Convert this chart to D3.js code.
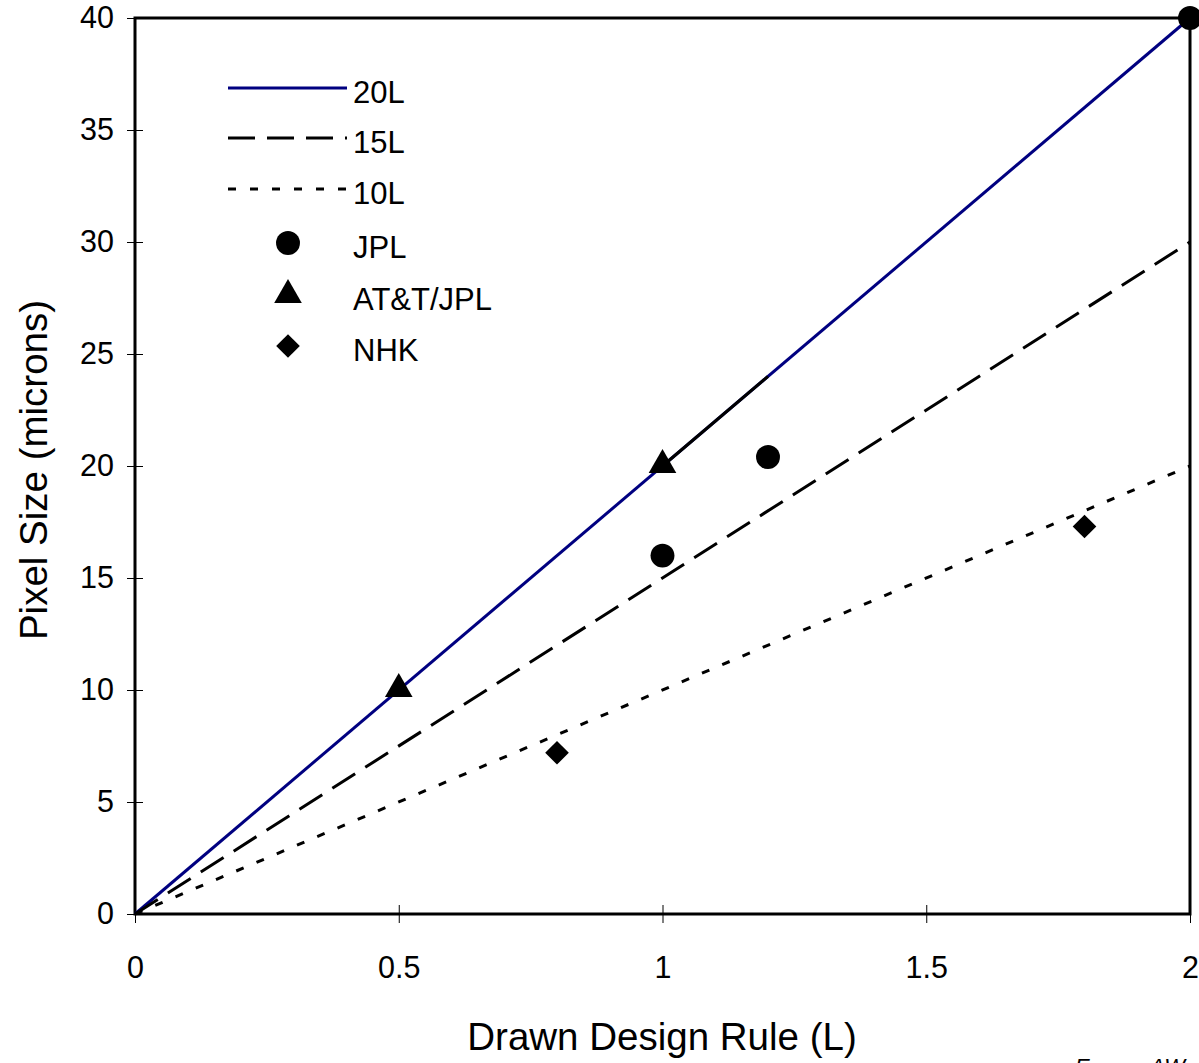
<!DOCTYPE html>
<html>
<head>
<meta charset="utf-8">
<script src="https://cdn.jsdelivr.net/npm/d3@7"></script>
<style>
  body { margin: 0; background: #fff; }
  text { font-family: "Liberation Sans", Arial, sans-serif; fill: #000; }
</style>
</head>
<body>
<svg id="chart"></svg>
<script>
// Reference lines: pixel size = N * design rule
const ruleX = [0, 2];
const lines20L = [0, 40];
const lines15L = [0, 30];
const lines10L = [0, 20];

// Measured devices
const jplX = [1.0, 1.2, 2.0];
const jplY = [16, 20.4, 40];
const attX = [0.5, 1.0];
const attY = [10, 20];
const nhkX = [0.8, 1.8];
const nhkY = [7.2, 17.3];

// Black highlight segment drawn over the 20L line
const highlightX = [1.0, 1.2];
const highlightY = [20, 24];

const xTicks = [0, 0.5, 1, 1.5, 2];
const yTicks = [0, 5, 10, 15, 20, 25, 30, 35, 40];

const legendNames = ["20L", "15L", "10L", "JPL", "AT&T/JPL", "NHK"];

// Set up the svg and margins
const width = 1199, height = 1063;
const margin = { top: 18, right: 9, bottom: 149, left: 135 };
const innerW = width - margin.left - margin.right;
const innerH = height - margin.top - margin.bottom;

const svg = d3.select("#chart")
  .attr("width", width)
  .attr("height", height);

const g = svg.append("g")
  .attr("transform", `translate(${margin.left},${margin.top})`);

const x = d3.scaleLinear().domain([0, 2]).range([0, innerW]);
const y = d3.scaleLinear().domain([0, 40]).range([innerH, 0]);

// Axes with ticks crossing the frame
const xAxis = g.append("g")
  .attr("transform", `translate(0,${innerH})`)
  .call(d3.axisBottom(x).tickValues(xTicks).tickSize(9).tickPadding(33)
    .tickFormat(d => d3.format("")(d)));
xAxis.select(".domain").remove();
xAxis.selectAll(".tick line").attr("y1", -9).attr("stroke", "#000").attr("stroke-width", 1);
xAxis.selectAll(".tick text").style("font-size", "30.5px").attr("font-family", null);

const yAxis = g.append("g")
  .call(d3.axisLeft(y).tickValues(yTicks).tickSize(8).tickPadding(13));
yAxis.select(".domain").remove();
yAxis.selectAll(".tick line").attr("x1", 8).attr("x2", -8).attr("stroke", "#000").attr("stroke-width", 1);
yAxis.selectAll(".tick text").style("font-size", "30.5px").attr("font-family", null);

// Frame
g.append("rect")
  .attr("width", innerW)
  .attr("height", innerH)
  .attr("fill", "none")
  .attr("stroke", "#000")
  .attr("stroke-width", 3);

// Lines
const line = d3.line().x(d => x(d[0])).y(d => y(d[1]));
const series = [
  { ys: lines20L, color: "#000080", dash: null },
  { ys: lines15L, color: "#000", dash: "27,12" },
  { ys: lines10L, color: "#000", dash: "8,14" }
];
series.forEach(s => {
  g.append("path")
    .datum(ruleX.map((v, i) => [v, s.ys[i]]))
    .attr("fill", "none")
    .attr("stroke", s.color)
    .attr("stroke-width", 3)
    .attr("stroke-dasharray", s.dash)
    .attr("d", line);
});

g.append("path")
  .datum(highlightX.map((v, i) => [v, highlightY[i]]))
  .attr("fill", "none")
  .attr("stroke", "#000")
  .attr("stroke-width", 3)
  .attr("d", line);

// Markers
const circleSym = d3.symbol().type(d3.symbolCircle).size(450);
const triSym = d3.symbol().type(d3.symbolTriangle).size(330);
const diaSym = d3.symbol().type(d3.symbolSquare).size(280);

g.selectAll(".jpl")
  .data(jplX.map((v, i) => [v, jplY[i]]))
  .enter().append("path")
  .attr("d", circleSym)
  .attr("transform", d => `translate(${x(d[0])},${y(d[1])})`);

g.selectAll(".att")
  .data(attX.map((v, i) => [v, attY[i]]))
  .enter().append("path")
  .attr("d", triSym)
  .attr("transform", d => `translate(${x(d[0])},${y(d[1]) - 1})`);

g.selectAll(".nhk")
  .data(nhkX.map((v, i) => [v, nhkY[i]]))
  .enter().append("path")
  .attr("d", diaSym)
  .attr("transform", d => `translate(${x(d[0])},${y(d[1])}) rotate(45)`);

// Legend
const legend = svg.append("g");
const legendY = [88, 138, 189, 243, 295, 346];
series.forEach((s, i) => {
  legend.append("line")
    .attr("x1", 228).attr("x2", 347)
    .attr("y1", legendY[i]).attr("y2", legendY[i])
    .attr("stroke", s.color)
    .attr("stroke-width", 3)
    .attr("stroke-dasharray", s.dash);
});
const legendSyms = [circleSym, triSym, diaSym];
legendSyms.forEach((sym, i) => {
  legend.append("path")
    .attr("d", sym)
    .attr("transform", `translate(288,${legendY[i + 3]})` + (i === 2 ? " rotate(45)" : ""));
});
legendNames.forEach((name, i) => {
  legend.append("text")
    .attr("x", 353)
    .attr("y", legendY[i] + 15)
    .style("font-size", "31px")
    .text(name);
});

// Axis titles
svg.append("text")
  .attr("x", 662)
  .attr("y", 1050)
  .attr("text-anchor", "middle")
  .style("font-size", "38.5px")
  .text("Drawn Design Rule (L)");

svg.append("text")
  .attr("transform", "rotate(-90)")
  .attr("x", -470)
  .attr("y", 47)
  .attr("text-anchor", "middle")
  .style("font-size", "38.5px")
  .text("Pixel Size  (microns)");

// Footer, cut off at the bottom edge as in the original
svg.append("text")
  .attr("x", 1075)
  .attr("y", 1074)
  .style("font-size", "22px")
  .style("font-style", "italic")
  .text("E");
svg.append("text")
  .attr("x", 1150)
  .attr("y", 1074)
  .style("font-size", "22px")
  .style("font-style", "italic")
  .text("AW");
</script>
</body>
</html>
